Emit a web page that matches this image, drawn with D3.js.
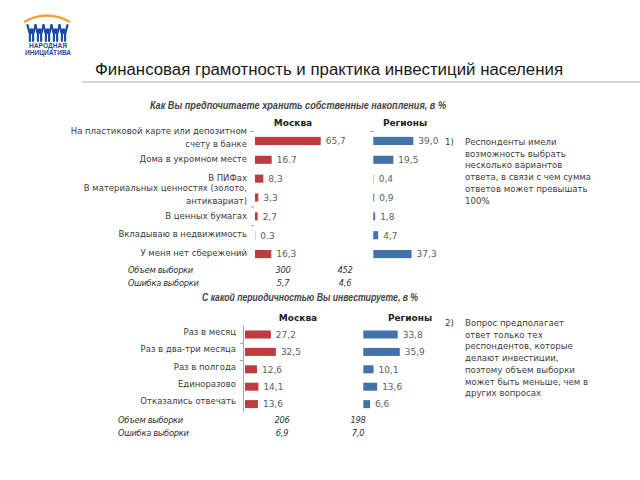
<!DOCTYPE html>
<html>
<head>
<meta charset="utf-8">
<script src="https://cdn.jsdelivr.net/npm/d3@7"></script>
<style>
  html, body { margin: 0; padding: 0; background: #fff; }
  svg { display: block; }
</style>
</head>
<body>
<script>
// ---------- DATA ----------
const title = "Финансовая грамотность и практика инвестиций населения";
const q1Title = "Как Вы предпочитаете хранить собственные накопления, в %";
const q2Title = "С какой периодичностью Вы инвестируете, в %";
const groups = ["Москва", "Регионы"];

const q1Categories = [
  ["На пластиковой карте или депозитном", "счету в банке"],
  ["Дома в укромном месте"],
  ["В ПИФах"],
  ["В материальных ценностях (золото,", "антиквариат)"],
  ["В ценных бумагах"],
  ["Вкладываю в недвижимость"],
  ["У меня нет сбережений"]
];
const q1Moscow = [65.7, 16.7, 8.3, 3.3, 2.7, 0.3, 16.3];
const q1Regions = [39.0, 19.5, 0.4, 0.9, 1.8, 4.7, 37.3];
const q1MoscowLabels = ["65,7", "16.7", "8,3", "3,3", "2,7", "0.3", "16,3"];
const q1RegionsLabels = ["39,0", "19,5", "0,4", "0,9", "1,8", "4,7", "37,3"];
const q1SampleSize = ["300", "452"];
const q1SampleError = ["5,7", "4,6"];

const q2Categories = ["Раз в месяц", "Раз в два-три месяца", "Раз в полгода", "Единоразово", "Отказались отвечать"];
const q2Moscow = [27.2, 32.5, 12.6, 14.1, 13.6];
const q2Regions = [33.8, 35.9, 10.1, 13.6, 6.6];
const q2SampleSize = ["206", "198"];
const q2SampleError = ["6,9", "7,0"];

const sampleRowLabels = ["Объем выборки", "Ошибка выборки"];

const note1 = ["Респонденты имели", "возможность выбрать", "несколько вариантов", "ответа, в связи с чем сумма", "ответов может превышать", "100%"];
const note2 = ["Вопрос предполагает", "ответ только тех", "респондентов, которые", "делают инвестиции,", "поэтому объем выборки", "может быть меньше, чем в", "других вопросах"];

const logoLines = ["НАРОДНАЯ", "ИНИЦИАТИВА"];

// ---------- STYLE ----------
const RED = "#be3b3f", BLUE = "#4371aa";
const TXT = "#3d3d3d", VAL = "#606060";
const F = "'DejaVu Sans', Verdana, sans-serif";
const FL = "'Liberation Sans', Arial, sans-serif";

const W = 640, H = 480;
const svg = d3.select("body").append("svg").attr("width", W).attr("height", H);
const measureCtx = document.createElement("canvas").getContext("2d");

// ---------- LOGO ----------
const logo = svg.append("g");
logo.append("path")
  .attr("d", "M24,22 Q47,9 70,22")
  .attr("fill", "none").attr("stroke", "#f0a33a").attr("stroke-width", 2.4);
const figX = [31.5, 39.5, 47.5, 55.5, 63.5];
figX.forEach((fx) => {
  const top = 25;
  logo.append("circle").attr("cx", fx).attr("cy", top + 5.5).attr("r", 2.3).attr("fill", "#1d4f9e");
  logo.append("path")
    .attr("d", `M${fx-4},${top} L${fx-2},${top+8} L${fx+2},${top+8} L${fx+4},${top} M${fx-1.6},${top+8} L${fx-1.6},${top+16} M${fx+1.6},${top+8} L${fx+1.6},${top+16}`)
    .attr("fill", "none").attr("stroke", "#1d4f9e").attr("stroke-width", 2.2).attr("stroke-linecap", "round").attr("stroke-linejoin", "round");
});
logo.selectAll("text.logo").data(logoLines).enter().append("text")
  .attr("x", 48).attr("y", (d, i) => 48 + i * 7)
  .attr("text-anchor", "middle")
  .attr("font-family", FL).attr("font-weight", "bold").attr("font-size", 6.6)
  .attr("fill", "#1d4f9e").text(d => d);

// ---------- TITLE ----------
svg.append("text").attr("x", 95).attr("y", 74.5)
  .attr("font-family", FL).attr("font-size", 16).attr("fill", "#1a1a1a")
  .attr("textLength", 468).attr("lengthAdjust", "spacingAndGlyphs")
  .text(title);
svg.append("line").attr("x1", 82).attr("x2", 640).attr("y1", 82).attr("y2", 82)
  .attr("stroke", "#b0b0b0").attr("stroke-width", 1);

// ---------- helpers ----------
function qTitle(text, cx, y, len) {
  svg.append("text").attr("x", cx).attr("y", y).attr("text-anchor", "middle")
    .attr("font-family", FL).attr("font-weight", "bold").attr("font-style", "italic")
    .attr("font-size", 10).attr("fill", "#444")
    .attr("textLength", len).attr("lengthAdjust", "spacingAndGlyphs")
    .text(text);
}
function header(text, cx, y) {
  svg.append("text").attr("x", cx).attr("y", y).attr("text-anchor", "middle")
    .attr("font-family", F).attr("font-weight", "bold").attr("font-size", 9)
    .attr("fill", "#222").text(text);
}
function bars(values, labels, y, x, color, keys) {
  const g = svg.append("g");
  g.selectAll("rect").data(values).enter().append("rect")
    .attr("x", x(0)).attr("y", (d, i) => y(keys[i]))
    .attr("width", d => x(d) - x(0)).attr("height", y.bandwidth())
    .attr("fill", color);
  g.selectAll("text").data(values).enter().append("text")
    .attr("x", d => x(d) + 5).attr("y", (d, i) => y(keys[i]) + y.bandwidth() / 2 + 3.3)
    .attr("font-family", F).attr("font-size", 9).attr("fill", VAL)
    .text((d, i) => labels[i]);
}
function sampleRows(xLabel, y0, xs, sizes, errs) {
  const rows = [sizes, errs];
  sampleRowLabels.forEach((lab, r) => {
    svg.append("text").attr("x", xLabel).attr("y", y0 + r * 13)
      .attr("font-family", F).attr("font-style", "italic").attr("font-size", 8.3)
      .attr("fill", "#333").attr("letter-spacing", -0.3).text(lab);
    rows[r].forEach((v, j) => {
      svg.append("text").attr("x", xs[j]).attr("y", y0 + r * 13).attr("text-anchor", "middle")
        .attr("font-family", F).attr("font-style", "italic").attr("font-size", 8.3)
        .attr("fill", "#333").attr("letter-spacing", -0.3).text(v);
    });
  });
}
function note(num, lines, x, y) {
  svg.append("text").attr("x", x).attr("y", y).attr("font-family", F).attr("font-size", 8.6)
    .attr("fill", TXT).text(num);
  measureCtx.font = "8.6px 'DejaVu Sans'";
  const g = svg.append("g");
  lines.forEach((ln, i) => {
    const t = g.append("text")
      .attr("x", x + 20).attr("y", y + i * 11.7)
      .attr("font-family", F).attr("font-size", 8.6).attr("fill", TXT)
      .text(ln);
    const len = measureCtx.measureText(ln).width;
    if (len > 124) t.attr("textLength", 126).attr("lengthAdjust", "spacingAndGlyphs");
  });
}

// ---------- CHART 1 ----------
qTitle(q1Title, 298, 109, 296);
const k1 = q1Categories.map((c, i) => "c" + i);
const y1 = d3.scaleBand().domain(k1).range([131.5, 263.5]).paddingInner(0.57).paddingOuter(0.285);
const x1m = d3.scaleLinear().domain([0, 100]).range([255, 355]);
const x1r = d3.scaleLinear().domain([0, 100]).range([373.3, 476]);
header(groups[0], 293, 126);
header(groups[1], 405, 126);

q1Categories.forEach((lines, i) => {
  const c = y1(k1[i]) + y1.bandwidth() / 2;
  const off = lines.length === 2 ? -3.5 : -1;
  lines.forEach((ln, j) => {
    svg.append("text").attr("x", 247).attr("y", c + off + (j - (lines.length - 1) / 2) * 13 + 3.2)
      .attr("text-anchor", "end").attr("font-family", F).attr("font-size", 8.5)
      .attr("fill", TXT).text(ln);
  });
});
const b1 = y1.domain().map(k => y1(k) - y1.step() * y1.paddingInner() / 2);
[b1[0], b1[4], b1[5]].forEach(b => {
  svg.append("line").attr("x1", 251).attr("x2", 254).attr("y1", b).attr("y2", b)
    .attr("stroke", "#999").attr("stroke-width", 1);
});
svg.append("line").attr("x1", 370).attr("x2", 373).attr("y1", b1[0]).attr("y2", b1[0])
  .attr("stroke", "#999").attr("stroke-width", 1);

bars(q1Moscow, q1MoscowLabels, y1, x1m, RED, k1);
bars(q1Regions, q1RegionsLabels, y1, x1r, BLUE, k1);
sampleRows(128, 273, [283, 345], q1SampleSize, q1SampleError);
note("1)", note1, 445, 145);

// ---------- CHART 2 ----------
qTitle(q2Title, 310, 301, 216);
const y2 = d3.scaleBand().domain(q2Categories).range([325.8, 412.8]).paddingInner(0.54).paddingOuter(0.27);
const x2m = d3.scaleLinear().domain([0, 100]).range([245, 340]);
const x2r = d3.scaleLinear().domain([0, 100]).range([363.3, 465]);
header(groups[0], 298, 321);
header(groups[1], 410, 321);

q2Categories.forEach((c) => {
  const cy = y2(c) + y2.bandwidth() / 2;
  svg.append("text").attr("x", 236).attr("y", cy - 3 + 3.2)
    .attr("text-anchor", "end").attr("font-family", F).attr("font-size", 8.5)
    .attr("fill", TXT).text(c);
});
svg.append("line").attr("x1", 243.5).attr("x2", 243.5).attr("y1", 326).attr("y2", 412)
  .attr("stroke", "#a8a8a8").attr("stroke-width", 1);
const b2 = y2.domain().map(k => y2(k) - y2.step() * y2.paddingInner() / 2);
[b2[1], b2[2]].forEach(b => {
  svg.append("line").attr("x1", 240).attr("x2", 243.5).attr("y1", b).attr("y2", b)
    .attr("stroke", "#999").attr("stroke-width", 1);
});
const fmt = v => d3.format(".1f")(v).replace(".", ",");
bars(q2Moscow, q2Moscow.map(fmt), y2, x2m, RED, q2Categories);
bars(q2Regions, q2Regions.map(fmt), y2, x2r, BLUE, q2Categories);
sampleRows(118, 423, [282, 358], q2SampleSize, q2SampleError);
note("2)", note2, 445, 326);
</script>
</body>
</html>
